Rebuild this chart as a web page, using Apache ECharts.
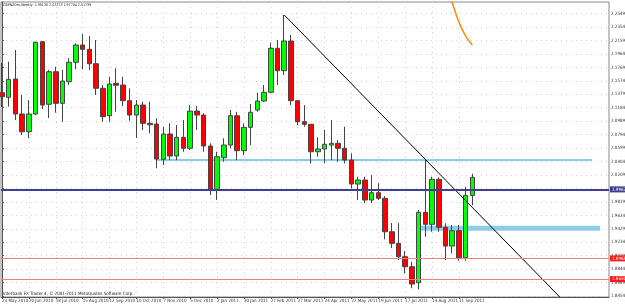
<!DOCTYPE html>
<html><head><meta charset="utf-8">
<script src="https://cdn.jsdelivr.net/npm/echarts@6/dist/echarts.min.js"></script>
<style>html,body{margin:0;padding:0;background:#fff;}#c{width:625px;height:304px;}</style>
</head><body><div id="c"></div>
<script>
// ---- data ----
const dateLabels = ['23 May 2010','20 Jun 2010','18 Jul 2010','15 Aug 2010','12 Sep 2010','10 Oct 2010','7 Nov 2010','5 Dec 2010','2 Jan 2011','30 Jan 2011','27 Feb 2011','27 Mar 2011','24 Apr 2011','22 May 2011','19 Jun 2011','17 Jul 2011','14 Aug 2011','11 Sep 2011'];
const labelBars = [0,4,8,12,16,20,24,28,32,36,40,44,48,52,56,60,64,68];
const opens = [2.1402,2.1335,2.1600,2.1093,2.0836,2.1093,2.2141,2.1234,2.1706,2.1248,2.1561,2.1843,2.2093,2.2031,2.1822,2.1466,2.1068,2.1538,2.1513,2.1286,2.1078,2.1223,2.0958,2.0948,2.0436,2.0803,2.0484,2.0755,2.0596,2.1136,2.1078,2.0629,2.0001,2.0459,2.0643,2.1068,2.0561,2.0900,2.1151,2.1281,2.1408,2.2046,2.1721,2.2151,2.1286,2.0981,2.0944,2.0546,2.0586,2.0643,2.0668,2.0596,2.0426,2.0078,2.0136,1.9846,1.9952,1.9871,1.9386,1.9218,1.9024,1.8879,1.8647,1.9668,1.9494,2.0146,1.9450,1.9179,1.9401,1.9009,1.99130];
const closes = [2.1344,2.1596,2.1093,2.0836,2.1093,2.2133,2.1223,2.1706,2.1248,2.1571,2.1843,2.2093,2.2031,2.1822,2.1466,2.1054,2.1528,2.1509,2.1286,2.1078,2.1223,2.0958,2.0938,2.0440,2.0803,2.0484,2.0755,2.0596,2.1136,2.1078,2.0629,2.0001,2.0474,2.0643,2.1068,2.0561,2.0900,2.1118,2.1281,2.1408,2.2046,2.1721,2.2151,2.1286,2.0981,2.0944,2.0546,2.0586,2.0654,2.0668,2.0596,2.0426,2.0078,2.0136,1.9846,1.9952,1.9871,1.9386,1.9218,1.9024,1.8879,1.8628,1.9668,1.9494,2.0146,1.9450,1.9179,1.9401,1.9009,1.9913,2.01739];
const highs = [2.1832,2.1851,2.2021,2.1368,2.1296,2.2141,2.2151,2.1731,2.1779,2.1731,2.1901,2.2118,2.2253,2.2224,2.2166,2.1513,2.1634,2.1756,2.1634,2.1466,2.1296,2.1271,2.1271,2.1031,2.0909,2.0958,2.0933,2.1006,2.1223,2.1209,2.1103,2.0668,2.0546,2.0741,2.1151,2.1126,2.0958,2.1238,2.1402,2.1513,2.2127,2.2166,2.2529,2.2238,2.1296,2.1223,2.0944,2.0755,2.0861,2.1006,2.0716,2.0909,2.0523,2.0184,2.0184,2.0209,2.0088,1.9904,1.9512,1.9512,1.9106,1.8951,1.9701,2.0426,2.0184,2.0175,1.9508,1.9483,1.9483,2.0039,2.02273];
const lows = [2.1194,2.1199,2.1006,2.0788,2.0745,2.1078,2.1165,2.1035,2.1112,2.0981,2.1513,2.1741,2.1741,2.1731,2.1368,2.0981,2.0981,2.1126,2.1209,2.0996,2.0745,2.0861,2.0813,2.0306,2.0353,2.0426,2.0426,2.0546,2.0571,2.0861,2.0546,1.9918,1.9846,2.0401,2.0596,2.0426,2.0498,2.0643,2.1126,2.1271,2.1393,2.1513,2.1658,2.1223,2.0933,2.0909,2.0378,2.0474,2.0378,2.0426,2.0401,2.0378,2.0016,1.9846,1.9802,1.9802,1.9846,1.9276,1.9150,1.8976,1.8783,1.8566,1.8551,1.9314,1.9386,1.9386,1.8976,1.9073,1.8966,1.8966,1.97704];
const priceTicks = [1.84540,1.86490,1.88440,1.90390,1.92340,1.94290,1.96240,1.98190,2.00140,2.02090,2.04040,2.05990,2.07940,2.09890,2.11840,2.13790,2.15740,2.17690,2.19640,2.21590,2.23540,2.25490];
const maBars = [66,67,68,69,70];
const maValues = [2.2950,2.2702,2.2427,2.2224,2.2094];
const trendBars = [42,83];
const trendValues = [2.2529,1.8441];
const blueLevel = 2.0426, blueBars = [22.9, 87.8];
const zoneLevel = 1.9437, zoneBars = [62.3, 89.0];
const navyLevel = 1.99679;
const redLevels = [1.89699, 1.86503];
const lastClose = 2.01739;
const boxTexts = ['1.99679', '1.89699', '1.86503', '2.01739'];
const titleText = 'GBPNZDm,Weekly  1.99130 2.02273 1.97704 2.01739';
const footText = 'Interbank FX Trader 4, \u00a9 2001-2011 MetaQuotes Software Corp.';

// ---- chart ----
const FONT = '"Liberation Sans Narrow", "DejaVu Sans Condensed", "Liberation Sans", sans-serif';
const FS = 4.5;
const candles = opens.map((o, i) => [i, o, closes[i], lows[i], highs[i]]);
const chart = echarts.init(document.getElementById('c'), null, {renderer: 'canvas'});
const boxLabel = (bg, txt) => ({
  show: true, position: 'end', distance: 1, formatter: () => txt,
  backgroundColor: bg, color: '#fff', fontSize: FS, fontFamily: FONT, padding: [1, 2, 0, 2]
});
chart.setOption({
  animation: false,
  backgroundColor: '#ffffff',
  graphic: [
    {type: 'text', left: 3, top: 3, z: 10, style: {text: titleText, fontSize: 3.6, fontFamily: FONT, fill: '#222'}},
    {type: 'text', left: 3, top: 291, z: 10, style: {text: footText, fontSize: FS, fontFamily: FONT, fill: '#222'}}
  ],
  grid: {left: 1, right: 16, top: 2, bottom: 7, show: true, borderColor: '#888', borderWidth: 1,
         containLabel: false, outerBoundsMode: 'none'},
  xAxis: {
    type: 'value', min: -0.15, max: 90.33,
    axisLine: {show: true, onZero: false, lineStyle: {color: '#555'}},
    axisTick: {show: true, customValues: labelBars, length: 2, lineStyle: {color: '#555'}},
    axisLabel: {customValues: labelBars, align: 'left', margin: 1, fontSize: FS, fontFamily: FONT, color: '#333',
      showMinLabel: true, formatter: (v) => dateLabels[labelBars.indexOf(Math.round(v))] || ''},
    splitLine: {show: true, lineStyle: {color: '#d4d4d4', type: [1, 4]}}
  },
  yAxis: {
    type: 'value', position: 'right', min: 1.8440, max: 2.2717, scale: true,
    axisLine: {show: true, lineStyle: {color: '#555'}},
    axisTick: {show: true, customValues: priceTicks, length: 2, lineStyle: {color: '#555'}},
    axisLabel: {customValues: priceTicks, margin: 2, fontSize: FS, fontFamily: FONT, color: '#333',
      formatter: (v) => v.toFixed(5)},
    splitLine: {show: true, lineStyle: {color: '#d4d4d4', type: [1, 4]}}
  },
  series: [
    {type: 'line', data: blueBars.map(b => [b, blueLevel]), symbol: 'none', lineStyle: {color: '#87CEEB', width: 2}, z: 1},
    {type: 'line', data: zoneBars.map(b => [b, zoneLevel]), symbol: 'none', lineStyle: {color: '#8CCDEA', width: 5}, z: 1},
    {type: 'line', data: [], clip: false, z: 2,
      markLine: {silent: true, symbol: 'none', animation: false, data: [
        {yAxis: navyLevel, lineStyle: {color: '#3F3F8F', width: 2, type: 'solid'}, label: boxLabel('#3F3F8F', boxTexts[0])},
        {yAxis: redLevels[0], lineStyle: {color: '#F08080', width: 1, type: 'solid'}, label: boxLabel('#FF1A1A', boxTexts[1])},
        {yAxis: redLevels[1], lineStyle: {color: '#F08080', width: 1, type: 'solid'}, label: boxLabel('#FF1A1A', boxTexts[2])},
        {yAxis: lastClose, lineStyle: {opacity: 0}, label: boxLabel('#000000', boxTexts[3])}
      ]}},
    {type: 'candlestick', data: candles, encode: {x: 0, y: [1, 2, 3, 4]}, barWidth: 5, z: 3,
      itemStyle: {color: '#00FF00', color0: '#FF0000', borderColor: '#444', borderColor0: '#444', borderWidth: 1}},
    {type: 'line', data: trendBars.map((b, i) => [b, trendValues[i]]), symbol: 'none', lineStyle: {color: '#000', width: 1}, z: 4},
    {type: 'line', data: maBars.map((b, i) => [b, maValues[i]]), symbol: 'none', smooth: true, lineStyle: {color: '#FF8C00', width: 1.5}, z: 4}
  ]
});
</script></body></html>
